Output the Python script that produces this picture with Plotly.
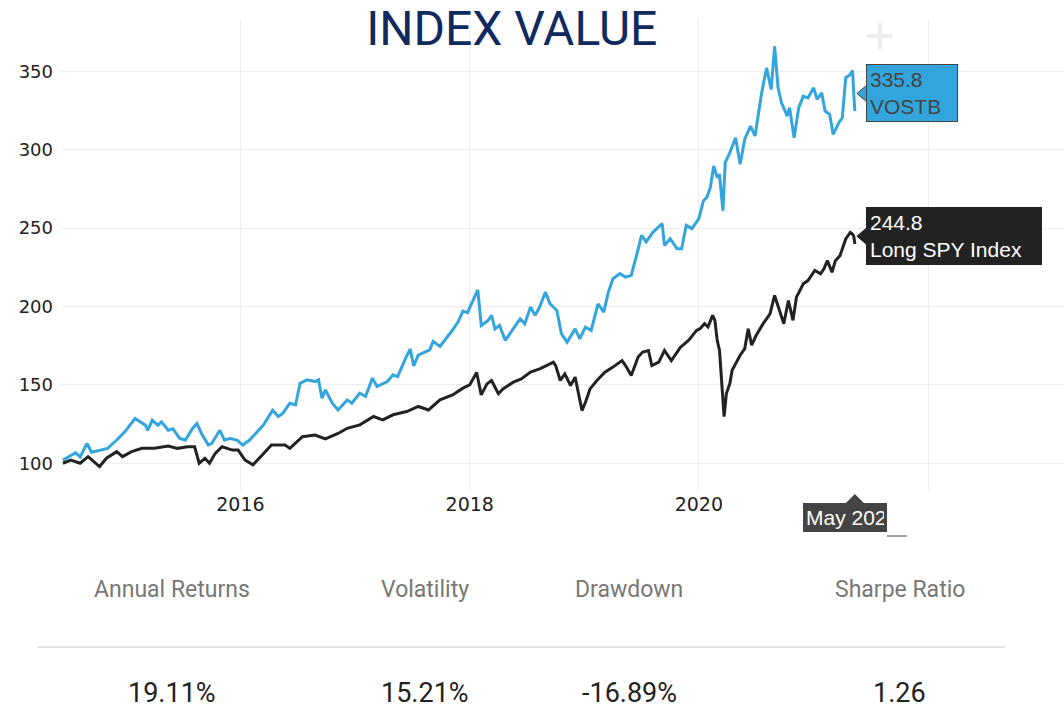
import plotly.graph_objects as go
import pandas as pd

# ---------------- data (decimal years, index values) ----------------
blue_t = [2014.45, 2014.56, 2014.60, 2014.66, 2014.70, 2014.79, 2014.84, 2014.92, 2014.99, 2015.08,
          2015.12, 2015.17, 2015.19, 2015.23, 2015.28, 2015.31, 2015.37, 2015.41, 2015.47, 2015.52,
          2015.58, 2015.62, 2015.66, 2015.72, 2015.75, 2015.82, 2015.86, 2015.91, 2015.97, 2016.02,
          2016.08, 2016.15, 2016.20, 2016.28, 2016.33, 2016.37, 2016.43, 2016.48, 2016.52, 2016.58,
          2016.65, 2016.68, 2016.71, 2016.74, 2016.80, 2016.85, 2016.93, 2016.97, 2017.04, 2017.09,
          2017.15, 2017.19, 2017.28, 2017.33, 2017.37, 2017.44, 2017.48, 2017.51, 2017.55, 2017.65,
          2017.68, 2017.74, 2017.80, 2017.84, 2017.90, 2017.94, 2017.98, 2018.02, 2018.07, 2018.10,
          2018.16, 2018.19, 2018.22, 2018.26, 2018.31, 2018.37, 2018.44, 2018.48, 2018.53, 2018.57,
          2018.61, 2018.66, 2018.70, 2018.76, 2018.80, 2018.85, 2018.92, 2018.96, 2019.01, 2019.06,
          2019.12, 2019.17, 2019.21, 2019.25, 2019.31, 2019.36, 2019.41, 2019.46, 2019.50, 2019.54,
          2019.60, 2019.68, 2019.70, 2019.75, 2019.81, 2019.85, 2019.89, 2019.94, 2020.00, 2020.04,
          2020.07, 2020.10, 2020.13, 2020.16, 2020.18, 2020.21, 2020.23, 2020.27, 2020.32, 2020.36,
          2020.40, 2020.45, 2020.49, 2020.52, 2020.55, 2020.59, 2020.63, 2020.66, 2020.69, 2020.72,
          2020.77, 2020.79, 2020.83, 2020.87, 2020.91, 2020.95, 2021.00, 2021.03, 2021.07, 2021.10,
          2021.14, 2021.17, 2021.22, 2021.25, 2021.28, 2021.32, 2021.34, 2021.35, 2021.36]
blue_v = [102.0, 106.7, 104.0, 112.7, 107.0, 108.4, 109.5, 114.8, 120.0, 128.5,
          126.4, 124.3, 121.0, 127.4, 124.3, 126.4, 121.0, 122.0, 115.8, 114.8,
          122.0, 125.3, 119.0, 111.6, 112.7, 121.0, 114.8, 115.8, 114.8, 111.6,
          114.8, 120.0, 124.3, 133.8, 129.8, 131.9, 138.3, 137.2, 151.0, 153.2,
          152.1, 153.2, 141.5, 146.8, 138.3, 134.0, 140.4, 138.3, 144.7, 142.6,
          154.3, 148.9, 152.1, 156.4, 155.3, 167.0, 172.8, 162.0, 169.0, 172.3,
          177.7, 174.5, 179.8, 184.0, 190.4, 197.0, 196.0, 203.0, 210.6, 187.9,
          191.0, 194.3, 185.7, 187.9, 178.3, 184.7, 192.1, 188.9, 199.6, 194.3,
          199.6, 209.1, 201.7, 197.4, 182.6, 177.2, 185.7, 179.4, 186.8, 184.7,
          201.7, 196.4, 209.1, 217.7, 220.9, 218.7, 219.8, 233.6, 245.3, 241.1,
          247.4, 252.8, 238.9, 243.2, 236.8, 236.8, 251.7, 249.6, 256.0, 267.4,
          269.5, 275.8, 289.6, 282.2, 284.3, 261.0, 291.7, 298.1, 307.6, 290.7,
          306.6, 315.0, 308.7, 323.5, 337.3, 352.1, 338.3, 365.9, 339.4, 329.9,
          321.4, 326.7, 307.6, 326.7, 334.1, 333.0, 339.4, 332.0, 336.2, 324.6,
          322.5, 309.7, 317.2, 320.3, 345.8, 347.9, 350.4, 335.8, 324.6]

black_t = [2014.45, 2014.52, 2014.60, 2014.67, 2014.77, 2014.83, 2014.92, 2014.97, 2015.05, 2015.14,
           2015.25, 2015.37, 2015.45, 2015.54, 2015.60, 2015.64, 2015.69, 2015.73, 2015.78, 2015.84,
           2015.93, 2015.98, 2016.04, 2016.11, 2016.19, 2016.27, 2016.39, 2016.43, 2016.54, 2016.65,
           2016.74, 2016.85, 2016.93, 2017.04, 2017.16, 2017.24, 2017.33, 2017.45, 2017.55, 2017.64,
           2017.74, 2017.85, 2017.94, 2018.00, 2018.06, 2018.10, 2018.15, 2018.19, 2018.25, 2018.29,
           2018.38, 2018.45, 2018.53, 2018.61, 2018.67, 2018.73, 2018.75, 2018.79, 2018.83, 2018.88,
           2018.92, 2018.98, 2019.01, 2019.05, 2019.11, 2019.18, 2019.25, 2019.33, 2019.36, 2019.41,
           2019.47, 2019.51, 2019.56, 2019.59, 2019.65, 2019.70, 2019.76, 2019.84, 2019.91, 2019.98,
           2020.01, 2020.05, 2020.08, 2020.12, 2020.14, 2020.16, 2020.18, 2020.20, 2020.22, 2020.24,
           2020.27, 2020.29, 2020.32, 2020.36, 2020.40, 2020.43, 2020.46, 2020.50, 2020.56, 2020.62,
           2020.66, 2020.71, 2020.74, 2020.78, 2020.82, 2020.85, 2020.91, 2020.95, 2021.01, 2021.06,
           2021.09, 2021.12, 2021.16, 2021.19, 2021.23, 2021.28, 2021.32, 2021.34, 2021.35, 2021.36]
black_v = [100.0, 102.0, 100.0, 104.2, 97.9, 103.2, 107.4, 104.2, 107.4, 109.5,
           109.5, 111.0, 109.5, 110.5, 110.5, 100.0, 103.2, 100.0, 106.3, 110.5,
           108.4, 108.4, 102.0, 99.0, 105.3, 111.6, 111.6, 109.5, 116.9, 118.0,
           115.5, 119.0, 122.3, 124.5, 129.8, 127.7, 130.9, 133.0, 136.2, 134.0,
           140.4, 143.6, 147.9, 150.0, 157.9, 143.6, 150.6, 152.8, 144.3, 147.4,
           151.7, 153.8, 158.1, 160.2, 162.3, 164.5, 162.3, 152.8, 157.0, 149.6,
           154.9, 133.6, 138.9, 147.4, 152.8, 158.1, 161.3, 165.5, 162.3, 156.0,
           167.7, 170.9, 171.9, 162.3, 164.5, 171.9, 165.5, 174.0, 178.3, 184.7,
           185.8, 189.0, 186.9, 194.3, 191.1, 178.4, 172.0, 153.0, 129.7, 144.5,
           150.8, 159.3, 163.6, 168.9, 173.1, 185.8, 175.3, 181.6, 189.0, 195.3,
           207.0, 196.4, 189.0, 203.8, 191.1, 205.9, 214.4, 216.5, 222.9, 220.8,
           224.0, 229.2, 221.8, 229.2, 232.4, 243.0, 247.2, 246.0, 244.8, 239.8]

series_names = ["VOSTB", "Long SPY Index"]
hover_t = 2021.36
hover_values = [335.8, 244.8]
hover_x_text = "May 202"

x_tick_vals = [2016, 2018, 2020, 2022]
x_tick_text = ["2016", "2018", "2020", ""]
y_tick_vals = [100, 150, 200, 250, 300, 350]
x_range = [2014.442, 2023.186]
y_range = [82.3, 383.3]

stat_labels = ["Annual Returns", "Volatility", "Drawdown", "Sharpe Ratio"]
stat_values = ["19.11%", "15.21%", "-16.89%", "1.26"]


def to_dt(y):
    yr = int(y)
    start = pd.Timestamp(year=yr, month=1, day=1)
    end = pd.Timestamp(year=yr + 1, month=1, day=1)
    return start + (end - start) * (y - yr)


BLUE = "#33a5dd"
BLACK = "#222222"

fig = go.Figure()
fig.add_trace(go.Scatter(x=[to_dt(t) for t in blue_t], y=blue_v, mode="lines",
                         name=series_names[0], line=dict(color=BLUE, width=3)))
fig.add_trace(go.Scatter(x=[to_dt(t) for t in black_t], y=black_v, mode="lines",
                         name=series_names[1], line=dict(color=BLACK, width=3)))

hx = to_dt(hover_t)

# hover-like labels
label_styles = [dict(bg=BLUE, border="#444444", fc="#444444", w=84),
                dict(bg="#222222", border="#222222", fc="#ffffff", w=168)]
for val, name, st in zip(hover_values, series_names, label_styles):
    fig.add_annotation(x=hx, y=val, xref="x", yref="y", xanchor="left", yanchor="middle",
                       xshift=11, showarrow=False, align="left", width=st["w"],
                       text=f"{val}<br>{name}", bgcolor=st["bg"], bordercolor=st["border"],
                       borderwidth=1, borderpad=3,
                       font=dict(family="Liberation Sans, Arial", size=21, color=st["fc"]))
    fig.add_shape(type="path", xref="x", yref="y", xsizemode="pixel", ysizemode="pixel",
                  xanchor=hx, yanchor=val, path="M 2 0 L 11.5 -8 L 11.5 8 Z",
                  fillcolor=st["bg"], line=dict(color=st["border"], width=1), layer="above")
    fig.add_shape(type="line", xref="x", yref="y", xsizemode="pixel", ysizemode="pixel",
                  xanchor=hx, yanchor=val, x0=11.5, x1=11.5, y0=-7, y1=7,
                  line=dict(color=st["bg"], width=2), layer="above")

# x hover label
fig.add_annotation(x=hx, y=0, xref="x", yref="paper", xanchor="left", yanchor="top",
                   xshift=-52, yshift=-12, showarrow=False, align="left", width=78,
                   text=hover_x_text, bgcolor="#444444", bordercolor="#444444", borderwidth=0,
                   borderpad=3, font=dict(family="Liberation Sans, Arial", size=21, color="#ffffff"))
fig.add_shape(type="path", xref="x", yref="paper", xsizemode="pixel", ysizemode="pixel",
              xanchor=hx, yanchor=0, path="M -9 -12 L 0 -3 L 9 -12 Z",
              fillcolor="#444444", line=dict(width=0), layer="above")
fig.add_shape(type="line", xref="x", yref="paper", xsizemode="pixel", ysizemode="pixel",
              xanchor=hx, yanchor=0, x0=32, x1=52, y0=-45, y1=-45,
              line=dict(color="#444444", width=1), layer="above")

# faint "+" icon
fig.add_annotation(x=0.816, y=0.966, xref="paper", yref="paper", showarrow=False,
                   xanchor="center", yanchor="middle",
                   text="+", font=dict(family="DejaVu Sans", size=40, color="#ececec"))

# stats table
stat_x = [0.1098, 0.3623, 0.5659, 0.8363]
for sx, lab, val in zip(stat_x, stat_labels, stat_values):
    fig.add_annotation(x=sx, y=-0.2097, xref="paper", yref="paper", showarrow=False,
                       text=lab, xanchor="center", yanchor="middle",
                       font=dict(family="Roboto", size=23, color="#777777"))
    fig.add_annotation(x=sx, y=-0.428, xref="paper", yref="paper", showarrow=False,
                       text=val, xanchor="center", yanchor="middle",
                       font=dict(family="Roboto", size=27, color="#222222"))
fig.add_shape(type="line", xref="paper", yref="paper", x0=-0.024, x1=0.941,
              y0=-0.3305, y1=-0.3305, line=dict(color="#e2e2e2", width=2))

fig.update_layout(
    width=1064, height=709,
    margin=dict(l=62, r=0, t=19, b=218),
    paper_bgcolor="white", plot_bgcolor="white",
    showlegend=False, hovermode=False,
    title=dict(text="INDEX VALUE", x=0.481, xanchor="center", y=0.9605, yanchor="middle",
               font=dict(family="Roboto", size=48, color="#0f2a5f")),
    xaxis=dict(type="date", range=[to_dt(x_range[0]), to_dt(x_range[1])],
               tickmode="array", tickvals=[to_dt(v) for v in x_tick_vals], ticktext=x_tick_text,
               showgrid=True, gridcolor="#eeeeee", gridwidth=1, zeroline=False, showline=False,
               tickfont=dict(family="DejaVu Sans", size=19, color="#222222")),
    yaxis=dict(range=y_range, tickmode="array", tickvals=y_tick_vals,
               showgrid=True, gridcolor="#eeeeee", gridwidth=1, zeroline=False, showline=False,
               ticklabelstandoff=8,
               tickfont=dict(family="DejaVu Sans", size=18, color="#222222")),
)

fig.write_html("out.html", config={"displayModeBar": False},
               post_script="document.body.style.margin='0';")
